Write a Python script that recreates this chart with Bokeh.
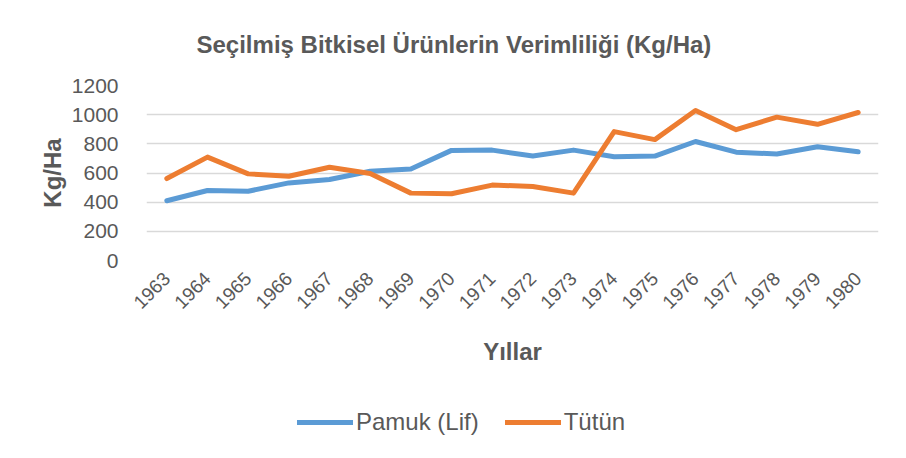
from math import pi
from bokeh.plotting import figure
from bokeh.layouts import column
from bokeh.models import Range1d, Legend, LegendItem, Title
from bokeh.embed import file_html
from bokeh.resources import INLINE

years = ["1963", "1964", "1965", "1966", "1967", "1968", "1969", "1970", "1971",
         "1972", "1973", "1974", "1975", "1976", "1977", "1978", "1979", "1980"]
pamuk = [410, 480, 475, 532, 555, 612, 628, 755, 757, 716, 757, 712, 716, 816, 743, 730, 780, 745]
tutun = [562, 709, 594, 578, 639, 596, 462, 458, 517, 508, 462, 884, 829, 1029, 897, 983, 934, 1015]
series_names = ["Pamuk (Lif)", "Tütün"]
series_values = [pamuk, tutun]
series_colors = ["#5B9BD5", "#ED7D31"]
y_ticks = [0, 200, 400, 600, 800, 1000, 1200]

FONT = "Liberation Sans"
GREY = "#595959"

p = figure(x_range=years, y_range=Range1d(0, 1200), width=890, height=390,
           output_backend="svg", toolbar_location=None,
           min_border_left=146, min_border_right=12, min_border_top=84, min_border_bottom=130)
p.outline_line_color = None

for vals, col in zip(series_values, series_colors):
    p.line(years, vals, line_color=col, line_width=5, line_cap="round", line_join="round")

p.title = Title(text="Seçilmiş Bitkisel Ürünlerin Verimliliği (Kg/Ha)", align="left",
                text_font=FONT, text_font_size="24px", text_font_style="bold",
                text_color=GREY, offset=50)
p.title.standoff = 56

p.xgrid.grid_line_color = None
p.ygrid.grid_line_color = "#D9D9D9"
p.ygrid.grid_line_width = 1.5
p.yaxis.ticker = y_ticks

for ax in (p.xaxis[0], p.yaxis[0]):
    ax.axis_line_color = None
    ax.major_tick_line_color = None
    ax.minor_tick_line_color = None
    ax.major_label_text_font = FONT
    ax.major_label_text_color = GREY
    ax.axis_label_text_font = FONT
    ax.axis_label_text_color = GREY
    ax.axis_label_text_font_style = "bold"
    ax.axis_label_text_font_size = "24px"

p.yaxis.major_label_text_font_size = "21px"
p.yaxis.major_label_standoff = 22
p.yaxis.axis_label = "Kg/Ha"
p.yaxis.axis_label_standoff = 3

p.xaxis.major_label_text_font_size = "19px"
p.xaxis.major_label_orientation = pi / 4
p.xaxis.major_label_standoff = 9
p.xaxis.axis_label = "Yıllar"
p.xaxis.axis_label_standoff = 20

# legend strip below the chart (series lines drawn out of view, only legend glyphs show)
lf = figure(width=890, height=52, output_backend="svg", toolbar_location=None,
            x_range=Range1d(0, 1), y_range=Range1d(-3000, -2000),
            min_border_left=0, min_border_right=0, min_border_top=0, min_border_bottom=0)
lf.axis.visible = False
lf.grid.visible = False
lf.outline_line_color = None
items = []
for name, vals, col in zip(series_names, series_values, series_colors):
    rr = lf.line(x=list(range(len(vals))), y=vals, line_color=col, line_width=5, line_cap="round")
    items.append(LegendItem(label=name, renderers=[rr]))
legend = Legend(items=items, orientation="horizontal", location=(151, 6),
                label_text_font=FONT, label_text_font_size="24px", label_text_color=GREY,
                glyph_width=56, glyph_height=22, label_standoff=3, spacing=26,
                border_line_color=None, background_fill_alpha=0, margin=0, padding=0)
lf.add_layout(legend, "center")

layout = column(p, lf, spacing=0)
open("out.html", "w").write(file_html(layout, INLINE))
